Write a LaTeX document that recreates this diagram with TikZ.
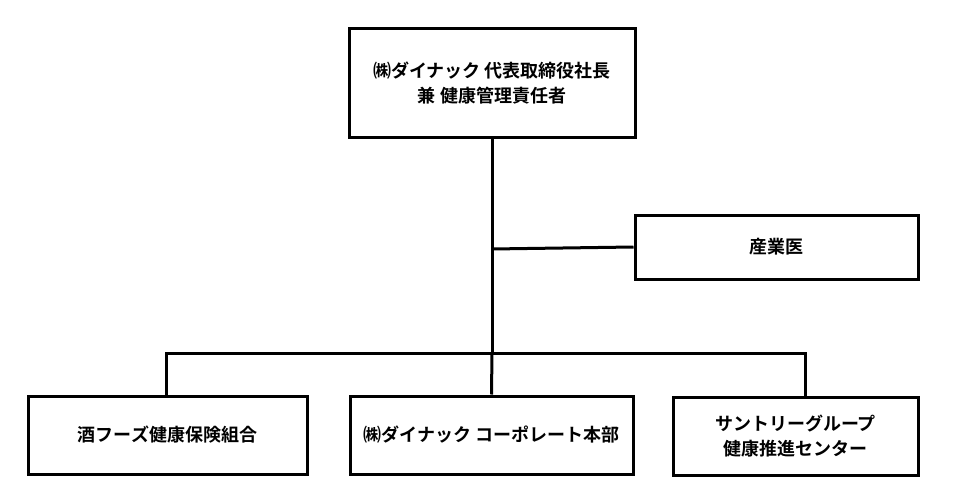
\documentclass[tikz,border=0pt]{standalone}
\usepackage{fontspec}
\newfontfamily\jp{Noto Sans CJK JP}[BoldFont={* Bold}]
\begin{document}
\begin{tikzpicture}[x=1pt,y=-1pt,
  box/.style={draw,line width=3pt,rectangle,inner sep=0pt,align=center,
    font=\jp\bfseries\fontsize{18}{25}\selectfont},
  conn/.style={line width=3pt}]
\useasboundingbox (0,0) rectangle (980,500);
\node[box,minimum width=286pt,minimum height=109pt] (top) at (492,83.5) {㈱ダイナック 代表取締役社長\\兼 健康管理責任者};
\node[box,minimum width=283pt,minimum height=64pt] (doc) at (776.5,247) {産業医};
\node[box,minimum width=279pt,minimum height=78pt] (l) at (167.5,435) {酒フーズ健康保険組合};
\node[box,minimum width=283pt,minimum height=78pt] (m) at (491.5,435) {㈱ダイナック コーポレート本部};
\node[box,minimum width=245pt,minimum height=78pt] (r) at (795.5,436) {サントリーグループ\\健康推進センター};
\coordinate (j) at (492,249);
\coordinate (h) at (492,353);
\draw[conn] (top.south) -- (h);
\draw[conn] (j) -- (doc.west);
\draw[conn] (h) -| ([xshift=-1.5pt]l.north);
\draw[conn] (h) -| ([xshift=10pt]r.north);
\draw[conn] (h) -- (m.north);
\end{tikzpicture}
\end{document}
